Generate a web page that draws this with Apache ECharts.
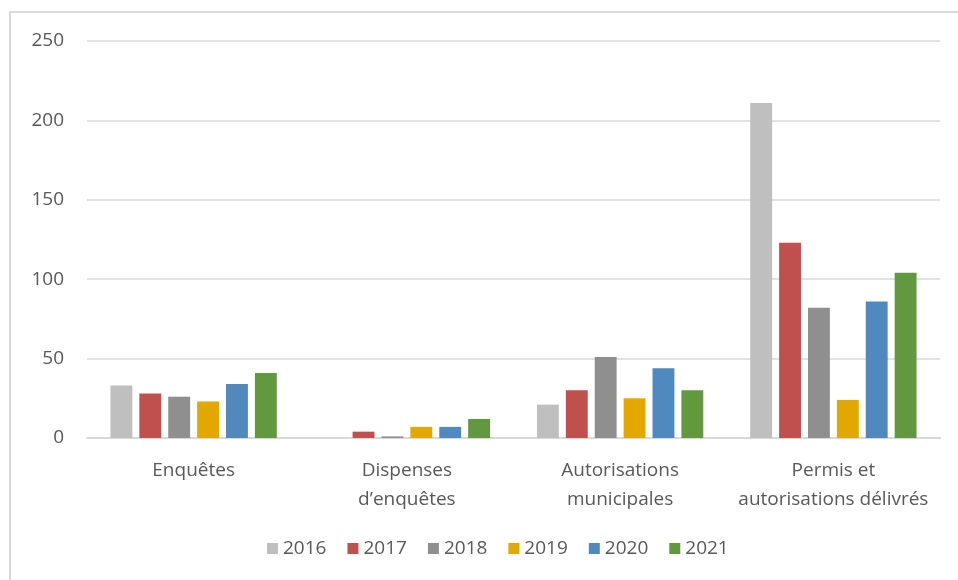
<!DOCTYPE html>
<html>
<head>
<meta charset="utf-8">
<script src="https://cdn.jsdelivr.net/npm/echarts@6/dist/echarts.min.js"></script>
<style>
html,body{margin:0;padding:0;background:#fff;}
#frame{position:absolute;left:9px;top:11px;width:960px;height:580px;border-left:2px solid #d9d9d9;border-top:2px solid #d9d9d9;}
#chart{position:absolute;left:0;top:0;width:958px;height:580px;}
</style>
</head>
<body>
<div id="frame"></div>
<div id="chart"></div>
<script>
var categories = ["Enquêtes", "Dispenses\nd’enquêtes", "Autorisations\nmunicipales", "Permis et\nautorisations délivrés"];
var years = ["2016", "2017", "2018", "2019", "2020", "2021"];
var v2016 = [33, 0, 21, 211];
var v2017 = [28, 4, 30, 123];
var v2018 = [26, 1, 51, 82];
var v2019 = [23, 7, 25, 24];
var v2020 = [34, 7, 44, 86];
var v2021 = [41, 12, 30, 104];
var seriesValues = [v2016, v2017, v2018, v2019, v2020, v2021];
var colors = ["#bfbfbf", "#c0504d", "#8f8f8f", "#e2a800", "#4f89bd", "#62993e"];

var chart = echarts.init(document.getElementById('chart'));
var font = "'Open Sans', sans-serif";
chart.setOption({
  animation: false,
  color: colors,
  grid: {left: 87, right: 18, top: 41, bottom: 142, containLabel: false},
  legend: {
    bottom: 17, left: 262,
    itemWidth: 11, itemHeight: 11, itemGap: 21,
    icon: 'rect',
    textStyle: {color: '#595959', fontSize: 19, fontFamily: font},
    data: years
  },
  xAxis: {
    type: 'category',
    data: categories,
    axisLine: {lineStyle: {color: '#d9d9d9', width: 2}},
    axisTick: {show: false},
    axisLabel: {color: '#595959', fontSize: 19, fontFamily: font, margin: 18, lineHeight: 29, interval: 0}
  },
  yAxis: {
    type: 'value', min: 0, max: 250, interval: 50,
    axisLine: {show: false}, axisTick: {show: false},
    splitLine: {lineStyle: {color: '#d9d9d9', width: 1.5}},
    axisLabel: {color: '#595959', fontSize: 19, fontFamily: font, margin: 23}
  },
  series: years.map(function (y, i) {
    return {
      name: y, type: 'bar', data: seriesValues[i],
      barGap: '32%', barCategoryGap: '22%',
      itemStyle: {color: colors[i]}
    };
  })
});
</script>
</body>
</html>
